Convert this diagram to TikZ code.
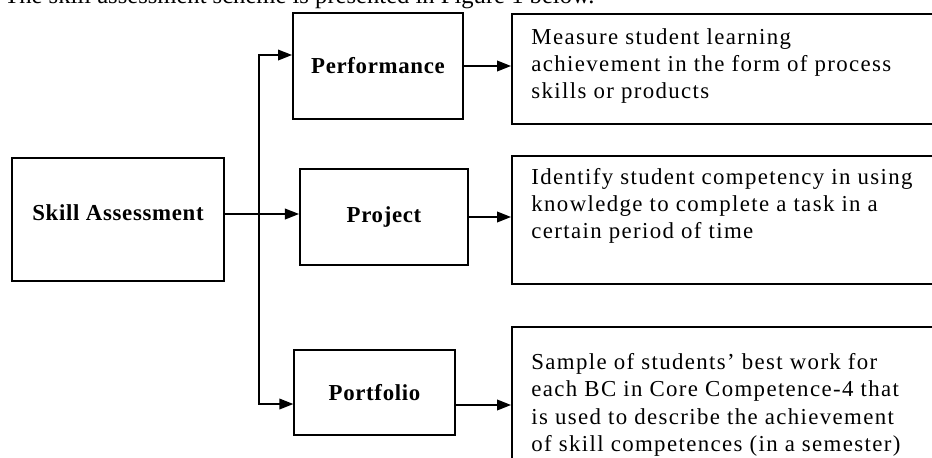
\documentclass[tikz,border=0pt]{standalone}
\usepackage{fontspec}
\setmainfont{Liberation Serif}
\usetikzlibrary{arrows.meta,positioning}
\tikzset{
  box/.style={draw, line width=1.1pt, inner sep=0pt},
  lbl/.style={font=\fontsize{13}{15}\selectfont\bfseries\addfontfeature{LetterSpace=3}},
  desc/.style={align=left, inner sep=0pt, font=\fontsize{13}{15.3}\selectfont\addfontfeature{LetterSpace=6}},
  arr/.style={line width=1.1pt, -{Triangle[length=8pt,width=6pt]}}
}
\begin{document}
\begin{tikzpicture}[x=0.02cm, y=-0.02cm]
  \useasboundingbox (0,0) rectangle (932,457);
  \node[inner sep=0pt, anchor=base west, font=\fontsize{14}{16}\selectfont] (intro) at (4,3.5) {The skill assessment scheme is presented in Figure 1 below.};

  \node[box, minimum width=4.24cm, minimum height=2.46cm,
        label={[lbl, yshift=0.13cm]center:Skill Assessment}] (skill) at (118,219.5) {};
  \node[box, lbl, minimum width=3.4cm, minimum height=2.12cm] (performance) at (378,66) {Performance};
  \node[box, lbl, minimum width=3.36cm, minimum height=1.92cm] (project) at (384,217) {Project};
  \node[box, lbl, line width=0.7pt, minimum width=3.22cm, minimum height=1.7cm] (portfolio) at (374.5,392.5) {Portfolio};

  \node[box, minimum width=8.66cm, minimum height=2.2cm] (desc1) at (728.5,69) {};
  \node[box, minimum width=8.66cm, minimum height=2.56cm] (desc2) at (728.5,220) {};
  \node[box, minimum width=8.66cm, minimum height=2.86cm] (desc3) at (728.5,398.5) {};

  \node[desc, anchor=north west] (desc1txt) at ([xshift=0.4cm, yshift=-0.31cm]desc1.north west)
    {Measure student learning\\achievement in the form of process\\skills or products};
  \node[desc, anchor=north west] (desc2txt) at ([xshift=0.4cm, yshift=-0.27cm]desc2.north west)
    {Identify student competency in using\\knowledge to complete a task in a\\certain period of time};
  \node[desc, anchor=north west, font=\fontsize{13}{15.6}\selectfont\addfontfeature{LetterSpace=6}] (desc3txt)
    at ([xshift=0.4cm, yshift=-0.54cm]desc3.north west)
    {Sample of students’ best work for\\each BC in Core Competence-4 that\\is used to describe the achievement\\of skill competences (in a semester)};

  \coordinate (split) at (259,214);
  \draw[arr] (skill.east |- split) -- (project.west |- split);
  \draw[arr] (split) |- ([yshift=0.22cm]performance.west);
  \draw[arr] (split) |- ([yshift=-0.23cm]portfolio.west);
  \draw[arr] (performance.east) -- (performance.east -| desc1.west);
  \draw[arr] (project.east) -- (project.east -| desc2.west);
  \draw[arr] ([yshift=-0.25cm]portfolio.east) -- ([yshift=-0.25cm]portfolio.east -| desc3.west);
\end{tikzpicture}
\end{document}
